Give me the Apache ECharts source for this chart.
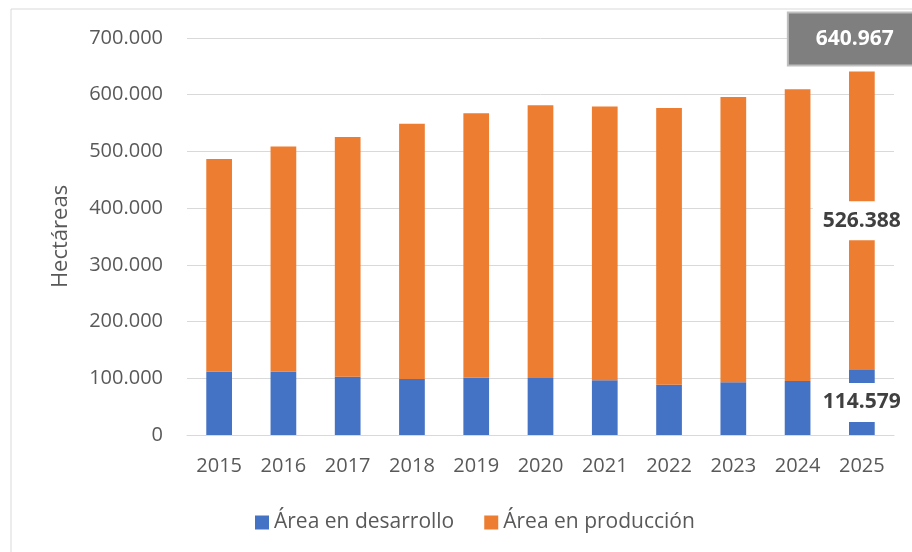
<!DOCTYPE html>
<html>
<head>
<meta charset="utf-8">
<script src="https://cdn.jsdelivr.net/npm/echarts@6/dist/echarts.min.js"></script>
<style>
  html, body { margin: 0; padding: 0; background: #fff; }
  #main { width: 912px; height: 552px; }
</style>
</head>
<body>
<div id="main"></div>
<script>
const years = ['2015', '2016', '2017', '2018', '2019', '2020', '2021', '2022', '2023', '2024', '2025'];
const desarrollo = [111600, 111600, 102900, 98800, 101100, 100500, 96500, 88700, 92900, 95200, 114579];
const produccion = [375200, 396900, 422700, 450200, 466200, 480900, 482500, 488000, 503100, 514400, 526388];
const totales = desarrollo.map((v, i) => v + produccion[i]);

const lastIdx = years.length - 1;

// 1234567 -> "1.234.567"
function fmt(v) {
  return String(Math.round(v)).replace(/\B(?=(\d{3})+(?!\d))/g, '.');
}

const boxLabel = {
  show: true,
  position: 'inside',
  backgroundColor: '#fff',
  padding: [9, 10],
  color: '#404040',
  fontWeight: 'bold',
  fontSize: 21,
  formatter: p => fmt(p.value)
};

function withLastLabel(arr, label) {
  return arr.map((v, i) => i === lastIdx ? { value: v, label: label } : v);
}

const chart = echarts.init(document.getElementById('main'));

chart.setOption({
  animation: false,
  textStyle: { fontFamily: 'Open Sans' },
  graphic: [{
    type: 'rect',
    shape: { x: 11, y: 9, width: 1000, height: 1000 },
    style: { fill: 'none', stroke: '#d9d9d9', lineWidth: 1 }
  }],
  grid: { left: 187, right: 18, top: 38, bottom: 117 },
  legend: {
    data: ['Área en desarrollo', 'Área en producción'],
    top: 507,
    left: 250,
    itemWidth: 14,
    itemHeight: 14,
    itemGap: 30,
    icon: 'rect',
    textStyle: { fontSize: 21, color: '#595959' }
  },
  xAxis: {
    type: 'category',
    data: years,
    axisTick: { show: false },
    axisLine: { lineStyle: { color: '#d9d9d9' } },
    axisLabel: { fontSize: 20, color: '#595959', margin: 21 }
  },
  yAxis: {
    type: 'value',
    min: 0,
    max: 700000,
    interval: 100000,
    name: 'Hectáreas',
    nameLocation: 'middle',
    nameGap: 115,
    nameTextStyle: { fontSize: 22, color: '#595959' },
    axisLabel: { fontSize: 20, color: '#595959', margin: 24, formatter: fmt },
    splitLine: { lineStyle: { color: '#d9d9d9' } }
  },
  series: [
    {
      name: 'Área en desarrollo',
      type: 'bar',
      stack: 'total',
      barWidth: '40%',
      itemStyle: { color: '#4472c4' },
      data: withLastLabel(desarrollo, boxLabel)
    },
    {
      name: 'Área en producción',
      type: 'bar',
      stack: 'total',
      barWidth: '40%',
      itemStyle: { color: '#ed7d31' },
      data: withLastLabel(produccion, boxLabel)
    },
    {
      name: 'Total',
      type: 'bar',
      barWidth: '40%',
      barGap: '-100%',
      itemStyle: { color: 'rgba(0,0,0,0)' },
      silent: true,
      data: withLastLabel(totales, {
        show: true,
        position: 'top',
        distance: 7,
        offset: [-11, 0],
        backgroundColor: '#7f7f7f',
        borderColor: '#bfbfbf',
        borderWidth: 2,
        padding: [15, 19, 15, 27],
        color: '#fff',
        fontWeight: 'bold',
        fontSize: 21,
        formatter: p => fmt(p.value)
      })
    }
  ]
});
</script>
</body>
</html>
